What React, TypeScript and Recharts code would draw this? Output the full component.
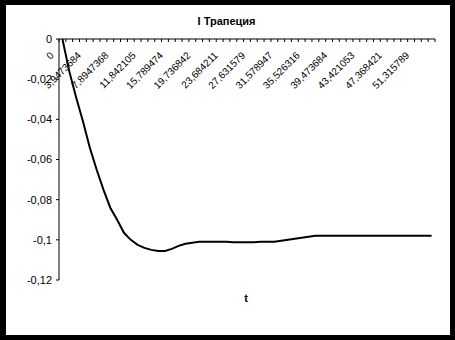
import React from 'react';
import { LineChart, Line, XAxis, YAxis } from 'recharts';

// t values (category labels as shown by the source spreadsheet)
const tLabels = [
  '0', '0,9868421', '1,9736842', '2,9605263', '3,9473684', '4,9342105', '5,9210526', '6,9078947',
  '7,8947368', '8,8815789', '9,8684211', '10,855263', '11,842105', '12,828947', '13,815789', '14,802632',
  '15,789474', '16,776316', '17,763158', '18,75', '19,736842', '20,723684', '21,710526', '22,697368',
  '23,684211', '24,671053', '25,657895', '26,644737', '27,631579', '28,618421', '29,605263', '30,592105',
  '31,578947', '32,565789', '33,552632', '34,539474', '35,526316', '36,513158', '37,5', '38,486842',
  '39,473684', '40,460526', '41,447368', '42,434211', '43,421053', '44,407895', '45,394737', '46,381579',
  '47,368421', '48,355263', '49,342105', '50,328947', '51,315789', '52,302632', '53,289474',
];

const trapValues = [
  0, -0.016, -0.029, -0.041, -0.054, -0.065, -0.075, -0.084,
  -0.09, -0.0965, -0.1, -0.1025, -0.104, -0.105, -0.1055, -0.1055,
  -0.1045, -0.103, -0.102, -0.1015, -0.101, -0.101, -0.101, -0.101,
  -0.101, -0.1012, -0.1012, -0.1012, -0.1012, -0.101, -0.101, -0.101,
  -0.1005, -0.1, -0.0995, -0.099, -0.0985, -0.098, -0.098, -0.098,
  -0.098, -0.098, -0.098, -0.098, -0.098, -0.098, -0.098, -0.098,
  -0.098, -0.098, -0.098, -0.098, -0.098, -0.098, -0.098,
];

const yTicks = [0, -0.02, -0.04, -0.06, -0.08, -0.1, -0.12];

const data = tLabels.map((t, i) => ({ t, v: trapValues[i] }));

const FONT = '"Liberation Sans", Arial, sans-serif';
const AXIS_Y = 39;
const X_AXIS_H = 30;
const PLOT_W = 376;
const BAND = PLOT_W / tLabels.length;

const CatTick = (props: any) => {
  const { x, payload } = props;
  const i = props.index ?? payload?.index ?? 0;
  const bx = x - BAND / 2;
  const lx = x - 8;
  const ly = AXIS_Y + 17;
  return (
    <g>
      <line x1={bx} y1={AXIS_Y} x2={bx} y2={AXIS_Y + 3} stroke="#000" />
      {i === tLabels.length - 1 && (
        <line x1={x + BAND / 2} y1={AXIS_Y} x2={x + BAND / 2} y2={AXIS_Y + 3} stroke="#000" />
      )}
      {i % 4 === 0 && (
        <text
          x={lx}
          y={ly}
          textAnchor="end"
          fontSize={10}
          fontFamily={FONT}
          fill="#000"
          style={{ transform: 'rotate(-45deg)', transformOrigin: `${lx}px ${ly}px`, transformBox: 'view-box' }}
        >
          {payload.value}
        </text>
      )}
    </g>
  );
};

export default function App() {
  return (
    <div style={{ position: 'absolute', left: 0, top: 0, width: 455, height: 340, background: '#000' }}>
      <div style={{ position: 'absolute', left: 6, top: 5, width: 444, height: 330, background: '#fff' }} />
      <div
        style={{
          position: 'absolute', left: 0, top: 15, width: 453, textAlign: 'center',
          fontFamily: FONT, fontWeight: 'bold', fontSize: 11, color: '#000',
        }}
      >
        I Трапеция
      </div>
      <div
        style={{
          position: 'absolute', left: 236, top: 292, width: 20, textAlign: 'center',
          fontFamily: FONT, fontWeight: 'bold', fontSize: 11, color: '#000',
        }}
      >
        t
      </div>
      <div style={{ position: 'absolute', left: 0, top: 0 }}>
        <LineChart
          width={455}
          height={340}
          data={data}
          margin={{ top: AXIS_Y - X_AXIS_H, right: 20, bottom: 60, left: 0 }}
        >
          <XAxis
            dataKey="t"
            orientation="top"
            height={X_AXIS_H}
            interval={0}
            padding={{ left: BAND / 2, right: BAND / 2 }}
            axisLine={{ stroke: '#000' }}
            tickLine={false}
            tick={<CatTick />}
          />
          <YAxis
            width={59}
            domain={[-0.12, 0]}
            ticks={yTicks}
            interval={0}
            tickSize={3}
            tickMargin={4}
            axisLine={{ stroke: '#000' }}
            tickLine={{ stroke: '#000' }}
            tick={{ fontSize: 11, fill: '#000', fontFamily: FONT }}
            tickFormatter={(v: number) => String(v).replace('.', ',')}
          />
          <Line
            type="linear"
            dataKey="v"
            stroke="#000"
            strokeWidth={2}
            dot={false}
            isAnimationActive={false}
          />
        </LineChart>
      </div>
    </div>
  );
}
